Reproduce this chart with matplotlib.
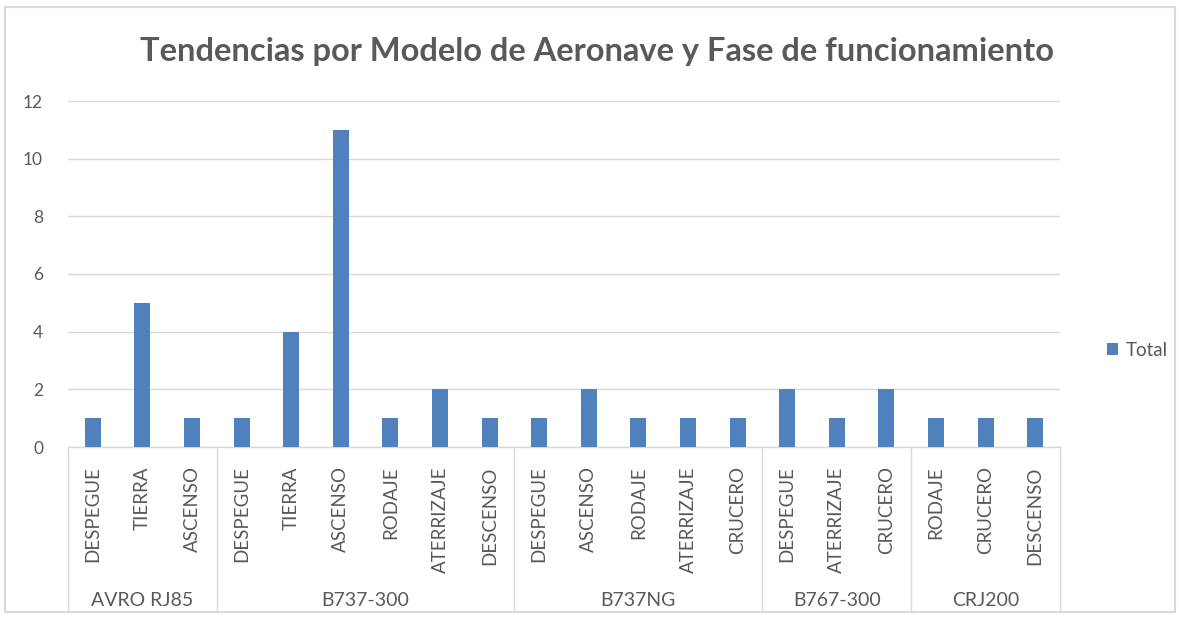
import matplotlib
matplotlib.use("Agg")
import matplotlib.pyplot as plt
import matplotlib.transforms as mtransforms
from matplotlib.patches import Rectangle

title = "Tendencias por Modelo de Aeronave y Fase de funcionamiento"
models = ["AVRO RJ85", "B737-300", "B737NG", "B767-300", "CRJ200"]
phases = [
    ["DESPEGUE", "TIERRA", "ASCENSO"],
    ["DESPEGUE", "TIERRA", "ASCENSO", "RODAJE", "ATERRIZAJE", "DESCENSO"],
    ["DESPEGUE", "ASCENSO", "RODAJE", "ATERRIZAJE", "CRUCERO"],
    ["DESPEGUE", "ATERRIZAJE", "CRUCERO"],
    ["RODAJE", "CRUCERO", "DESCENSO"],
]
totals = [
    [1, 5, 1],
    [1, 4, 11, 1, 2, 1],
    [1, 2, 1, 1, 1],
    [2, 1, 2],
    [1, 1, 1],
]
yticks = [0, 2, 4, 6, 8, 10, 12]
series_name = "Total"

plt.rcParams['font.family'] = ['Lato', 'DejaVu Sans']
TXT = "#595959"
GRID = "#d9d9d9"
BAR = "#4f81bd"

W, H = 1179, 621
fig = plt.figure(figsize=(W / 100, H / 100), dpi=100)

# chart area border
fig.add_artist(Rectangle((5 / W, 1 - 612 / H), 1170 / W, 605 / H, transform=fig.transFigure,
                         fill=False, edgecolor=GRID, linewidth=1.5))

x0, x1, y0, y1 = 68, 1060, 447, 101
ax = fig.add_axes([x0 / W, 1 - y0 / H, (x1 - x0) / W, (y0 - y1) / H])

labels = [p for grp in phases for p in grp]
values = [v for grp in totals for v in grp]
n = len(labels)
xs = list(range(n))
ax.bar(xs, values, width=0.32, color=BAR, zorder=3, label=series_name)

ax.set_xlim(-0.5, n - 0.5)
ax.set_ylim(0, 12)
ax.set_yticks(yticks)
ax.set_yticklabels([str(t) for t in yticks], color=TXT, fontsize=12.5)
ax.tick_params(axis='y', length=0, pad=18)
ax.yaxis.grid(True, color=GRID, linewidth=1)
ax.set_axisbelow(True)
for s in ["top", "right", "left"]:
    ax.spines[s].set_visible(False)
ax.spines["bottom"].set_color(GRID)
ax.spines["bottom"].set_linewidth(1)

ax.set_xticks(xs)
ax.set_xticklabels(labels, rotation=90, color=TXT, fontsize=13.5, va='top')
ax.tick_params(axis='x', length=0, pad=14)

trans = mtransforms.blended_transform_factory(ax.transData, ax.transAxes)
ybot = -(612 - 447) / (447 - 101)
ylab = -(600 - 447) / (447 - 101)
start = 0
bounds = [-0.5]
for m, grp in zip(models, phases):
    end = start + len(grp)
    bounds.append(end - 0.5)
    ax.text((start + end - 1) / 2, ylab, m, transform=trans, ha='center', va='center',
            color=TXT, fontsize=14)
    start = end
for b in bounds:
    ax.plot([b, b], [0, ybot], transform=trans, color=GRID, linewidth=1, clip_on=False)

fig.text(597 / W, 1 - 52 / H, title, ha='center', va='center', fontsize=23.5,
         fontweight='bold', color=TXT)

leg = ax.legend(loc='center left', bbox_to_anchor=(1.03, 0.28), frameon=False,
                fontsize=13.5, handlelength=0.6, handleheight=0.6, handletextpad=0.4)
for t in leg.get_texts():
    t.set_color(TXT)

fig.savefig("out.png", dpi=100)
